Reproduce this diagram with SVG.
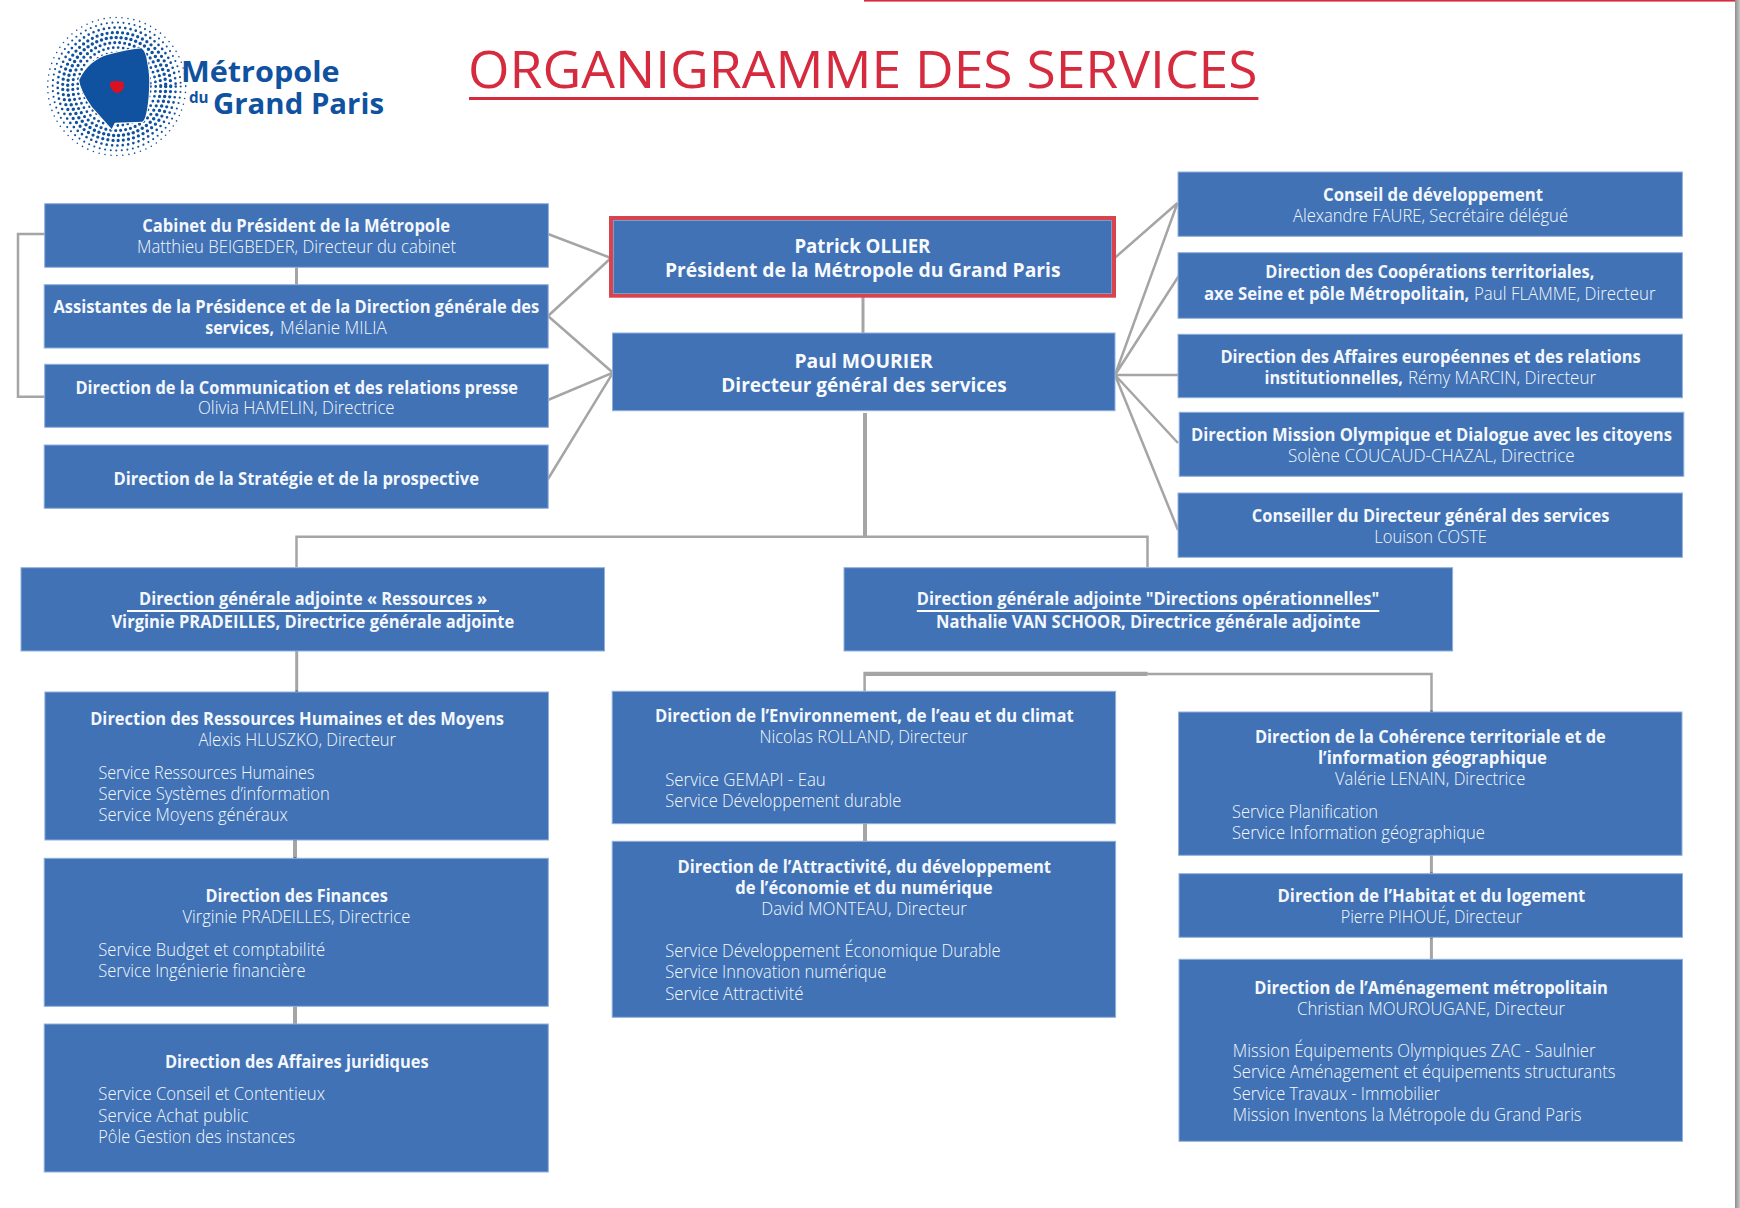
<svg xmlns="http://www.w3.org/2000/svg" width="1740" height="1208" viewBox="0 0 1740 1208">
<style>
text{font-family:"Open Sans","Noto Sans","Liberation Sans",sans-serif;fill:#fff}
.b{font-size:17px;font-weight:700;fill:#f4f7fc}
.r{font-size:17.5px;font-weight:300;fill:#f6f9fd}
.h{font-size:20px;font-weight:700;fill:#f8fafd}
.box{fill:#4072b5;stroke:#8fb0de;stroke-width:1}
.c{fill:none;stroke:#a5a5a5;stroke-width:2.5}
.c3{fill:none;stroke:#a5a5a5;stroke-width:3}
.c4{fill:none;stroke:#a5a5a5;stroke-width:4}
.t{fill:none;stroke:#4d5a6c;stroke-width:3}
.dot{fill:none;stroke:#10529f;stroke-linecap:round}
.lg{font-weight:700}
</style>
<defs>
<linearGradient id="edge" x1="0" x2="1" y1="0" y2="0"><stop offset="0" stop-color="#8c8c8c"/><stop offset="1" stop-color="#c8c8c8"/></linearGradient>
</defs>
<rect width="1740" height="1208" fill="#fff"/>
<rect x="1735" y="0" width="5" height="1208" fill="url(#edge)"/>
<rect x="864" y="0" width="871" height="1.6" fill="#d62b3e"/>

<g id="logo">
<g class="dot">
<circle cx="116.7" cy="86.5" r="69" stroke-width="1.6" stroke-dasharray="0 6"/>
<circle cx="116.7" cy="86.5" r="64" stroke-width="2.1" stroke-dasharray="0 5.6"/>
<circle cx="116.7" cy="86.5" r="59" stroke-width="2.7" stroke-dasharray="0 5.4"/>
<circle cx="116.7" cy="86.5" r="54" stroke-width="3.3" stroke-dasharray="0 5.2"/>
<circle cx="116.7" cy="86.5" r="49" stroke-width="3.5" stroke-dasharray="0 5"/>
<circle cx="116.7" cy="86.5" r="44" stroke-width="3.2" stroke-dasharray="0 5"/>
<circle cx="116.7" cy="86.5" r="39" stroke-width="2.8" stroke-dasharray="0 5"/>
<circle cx="116.7" cy="86.5" r="34" stroke-width="2.4" stroke-dasharray="0 5"/>
</g>
<path d="M141.6 48.3Q146 52 147.3 63Q150 76 149 90Q148.5 105 145.4 116.7Q144 121 142.4 121.7L114.8 122.7L111.7 129L91.8 106.7Q80 90 79.2 80Q84 70 91.8 63.3Q100 57 107 55Q125 50 141.6 48.3Z" fill="#10529f" stroke="#fff" stroke-width="2" paint-order="stroke"/>
<path d="M110.5 82Q116 80 123 82Q125 84 123 89Q120 93 117.5 93Q114.5 93 111.5 89Q109 85 110.5 82Z" fill="#dc1020"/>
<text class="lg" x="181" y="82.3" font-size="29" textLength="158.5" lengthAdjust="spacingAndGlyphs" style="fill:#10529f">Métropole</text>
<text class="lg" x="189" y="103" font-size="16" textLength="19.6" lengthAdjust="spacingAndGlyphs" style="fill:#10529f">du</text>
<text class="lg" x="213" y="114" font-size="29" textLength="171" lengthAdjust="spacingAndGlyphs" style="fill:#10529f">Grand Paris</text>
</g>

<g id="title">
<text x="468" y="87.5" font-size="52" textLength="789.5" lengthAdjust="spacingAndGlyphs" style="fill:#d62b3e">ORGANIGRAMME DES SERVICES</text>
<rect x="469" y="97" width="789.4" height="3" fill="#d62b3e"/>
</g>

<g id="connectors">
<path class="c" d="M45 234H18V396.7H45"/>
<path class="c3" d="M296.5 267V285"/>
<path class="c" d="M548 234L611 258M548 316L611 258M548 316L613 372.7M548 400L613 372.7M548 479L613 372.7"/>
<path class="c3" d="M863 297V333"/>
<path class="c" d="M1115 257.7L1177.5 203M1115 375L1177.5 203M1115 375L1180 274M1115 375H1178M1115 375L1178 443M1115 375L1178 530"/>
<path class="c4" d="M865 413V536"/>
<path class="c" d="M296.5 567V536.7H1147.5V567"/>
<path class="c3" d="M296.7 651V692"/>
<path class="c4" d="M295 840V858M295 1006V1024"/>
<path class="c4" d="M864.6 674H1147.5"/>
<path class="c" d="M864.6 691V673H1147.5M1147.5 674H1431.5V712"/>
<path class="c4" d="M865 823V841"/>
<path class="c3" d="M1431.4 855V874M1431.4 937V959"/>
<path class="t" d="M296.7 690.5V692M295 839V840.5M295 857V858.5M1431.5 710.5V712M1431.4 872.5V874M1431.4 937V938.5" style="stroke-width:2.4"/>
</g>

<g id="n-cabinet">
<rect class="box" x="44.7" y="203.7" width="503.7" height="63.6"/>
<text class="b" x="142.3" y="231.7" textLength="307.7" lengthAdjust="spacingAndGlyphs">Cabinet du Président de la Métropole</text>
<text class="r" x="137" y="253.3" textLength="319" lengthAdjust="spacingAndGlyphs">Matthieu BEIGBEDER, Directeur du cabinet</text>
</g>
<g id="n-assistantes">
<rect class="box" x="44.2" y="284.7" width="504" height="63.3"/>
<text class="b" x="53.4" y="313" textLength="485.9" lengthAdjust="spacingAndGlyphs">Assistantes de la Présidence et de la Direction générale des</text>
<text class="b" x="205.2" y="334" textLength="68.8" lengthAdjust="spacingAndGlyphs">services,</text>
<text class="r" x="280" y="334" textLength="106.7" lengthAdjust="spacingAndGlyphs">Mélanie MILIA</text>
</g>
<g id="n-communication">
<rect class="box" x="44.7" y="364.3" width="503.7" height="63"/>
<text class="b" x="75.5" y="393.5" textLength="442.5" lengthAdjust="spacingAndGlyphs">Direction de la Communication et des relations presse</text>
<text class="r" x="198" y="414" textLength="196.6" lengthAdjust="spacingAndGlyphs">Olivia HAMELIN, Directrice</text>
</g>
<g id="n-strategie">
<rect class="box" x="44.2" y="445" width="504" height="63.3"/>
<text class="b" x="113.5" y="484.5" textLength="365.5" lengthAdjust="spacingAndGlyphs">Direction de la Stratégie et de la prospective</text>
</g>

<g id="n-president">
<rect x="611" y="218" width="503" height="77.7" fill="#4072b5" stroke="#d9434e" stroke-width="4"/>
<rect x="613.5" y="220.5" width="498" height="73" fill="none" stroke="#7d9cc8" stroke-width="1"/>
<text class="h" x="794.4" y="252.7" textLength="136" lengthAdjust="spacingAndGlyphs">Patrick OLLIER</text>
<text class="h" x="665" y="276.7" textLength="395.5" lengthAdjust="spacingAndGlyphs">Président de la Métropole du Grand Paris</text>
</g>
<g id="n-dgs">
<rect class="box" x="612.5" y="333" width="502.5" height="77.7"/>
<text class="h" x="794.4" y="367.7" textLength="138.4" lengthAdjust="spacingAndGlyphs">Paul MOURIER</text>
<text class="h" x="721.3" y="391.7" textLength="285.5" lengthAdjust="spacingAndGlyphs">Directeur général des services</text>
</g>

<g id="n-conseil">
<rect class="box" x="1178" y="172" width="504.4" height="64.3"/>
<text class="b" x="1323" y="200.7" textLength="220" lengthAdjust="spacingAndGlyphs">Conseil de développement</text>
<text class="r" x="1293" y="222" textLength="275" lengthAdjust="spacingAndGlyphs">Alexandre FAURE, Secrétaire délégué</text>
</g>
<g id="n-cooperations">
<rect class="box" x="1178" y="252.7" width="504.4" height="65.6"/>
<text class="b" x="1265.3" y="278" textLength="329" lengthAdjust="spacingAndGlyphs">Direction des Coopérations territoriales,</text>
<text class="b" x="1204" y="300" textLength="265.4" lengthAdjust="spacingAndGlyphs">axe Seine et pôle Métropolitain,</text>
<text class="r" x="1474" y="300" textLength="181.5" lengthAdjust="spacingAndGlyphs">Paul FLAMME, Directeur</text>
</g>
<g id="n-affaires">
<rect class="box" x="1178" y="334.3" width="504.4" height="63.4"/>
<text class="b" x="1220.4" y="362.7" textLength="420.4" lengthAdjust="spacingAndGlyphs">Direction des Affaires européennes et des relations</text>
<text class="b" x="1264.5" y="384" textLength="138.5" lengthAdjust="spacingAndGlyphs">institutionnelles,</text>
<text class="r" x="1408" y="384" textLength="188" lengthAdjust="spacingAndGlyphs">Rémy MARCIN, Directeur</text>
</g>
<g id="n-mission">
<rect class="box" x="1179.2" y="412.3" width="504.6" height="64"/>
<text class="b" x="1191" y="440.7" textLength="481" lengthAdjust="spacingAndGlyphs">Direction Mission Olympique et Dialogue avec les citoyens</text>
<text class="r" x="1288" y="461.7" textLength="286.7" lengthAdjust="spacingAndGlyphs">Solène COUCAUD-CHAZAL, Directrice</text>
</g>
<g id="n-conseiller">
<rect class="box" x="1178" y="493" width="504.4" height="64.3"/>
<text class="b" x="1251.8" y="521.7" textLength="357.6" lengthAdjust="spacingAndGlyphs">Conseiller du Directeur général des services</text>
<text class="r" x="1374.3" y="542.7" textLength="112.7" lengthAdjust="spacingAndGlyphs">Louison COSTE</text>
</g>

<g id="n-dga-ressources">
<rect class="box" x="21" y="567.7" width="583.5" height="83.3"/>
<text class="b" x="139" y="605" textLength="348" lengthAdjust="spacingAndGlyphs">Direction générale adjointe « Ressources »</text>
<rect x="127" y="610" width="372" height="2" fill="#fff"/>
<text class="b" x="111.4" y="628" textLength="402.9" lengthAdjust="spacingAndGlyphs">Virginie PRADEILLES, Directrice générale adjointe</text>
</g>
<g id="n-dga-operationnelles">
<rect class="box" x="844" y="567.7" width="608.6" height="83.3"/>
<text class="b" x="916.8" y="605" textLength="462.5" lengthAdjust="spacingAndGlyphs">Direction générale adjointe "Directions opérationnelles"</text>
<rect x="916.8" y="610" width="462.5" height="2" fill="#fff"/>
<text class="b" x="936" y="628" textLength="424.5" lengthAdjust="spacingAndGlyphs">Nathalie VAN SCHOOR, Directrice générale adjointe</text>
</g>

<g id="n-rh">
<rect class="box" x="44.9" y="692" width="503.6" height="148"/>
<text class="b" x="90.2" y="725" textLength="413.8" lengthAdjust="spacingAndGlyphs">Direction des Ressources Humaines et des Moyens</text>
<text class="r" x="198.4" y="746" textLength="197.6" lengthAdjust="spacingAndGlyphs">Alexis HLUSZKO, Directeur</text>
<text class="r" x="98.4" y="779.3" textLength="216" lengthAdjust="spacingAndGlyphs">Service Ressources Humaines</text>
<text class="r" x="98.4" y="800.3" textLength="231.4" lengthAdjust="spacingAndGlyphs">Service Systèmes d’information</text>
<text class="r" x="98.4" y="821.3" textLength="189.4" lengthAdjust="spacingAndGlyphs">Service Moyens généraux</text>
</g>
<g id="n-finances">
<rect class="box" x="44.2" y="858.3" width="504.1" height="148"/>
<text class="b" x="205.5" y="901.7" textLength="182.2" lengthAdjust="spacingAndGlyphs">Direction des Finances</text>
<text class="r" x="182.5" y="922.7" textLength="227.8" lengthAdjust="spacingAndGlyphs">Virginie PRADEILLES, Directrice</text>
<text class="r" x="98.3" y="956" textLength="226.8" lengthAdjust="spacingAndGlyphs">Service Budget et comptabilité</text>
<text class="r" x="98.3" y="977" textLength="207.2" lengthAdjust="spacingAndGlyphs">Service Ingénierie financière</text>
</g>
<g id="n-juridiques">
<rect class="box" x="44.2" y="1024" width="504.1" height="148"/>
<text class="b" x="164.9" y="1067.7" textLength="263.7" lengthAdjust="spacingAndGlyphs">Direction des Affaires juridiques</text>
<text class="r" x="98.3" y="1100" textLength="226.7" lengthAdjust="spacingAndGlyphs">Service Conseil et Contentieux</text>
<text class="r" x="98.3" y="1121.7" textLength="150.1" lengthAdjust="spacingAndGlyphs">Service Achat public</text>
<text class="r" x="98.3" y="1142.7" textLength="196.7" lengthAdjust="spacingAndGlyphs">Pôle Gestion des instances</text>
</g>

<g id="n-environnement">
<rect class="box" x="612.2" y="691.3" width="503.4" height="132.4"/>
<text class="b" x="655" y="721.7" textLength="418.6" lengthAdjust="spacingAndGlyphs">Direction de l’Environnement, de l’eau et du climat</text>
<text class="r" x="759.6" y="743" textLength="208.2" lengthAdjust="spacingAndGlyphs">Nicolas ROLLAND, Directeur</text>
<text class="r" x="665.2" y="786" textLength="160.6" lengthAdjust="spacingAndGlyphs">Service GEMAPI - Eau</text>
<text class="r" x="665.2" y="807" textLength="236" lengthAdjust="spacingAndGlyphs">Service Développement durable</text>
</g>
<g id="n-attractivite">
<rect class="box" x="612.2" y="841.3" width="503.4" height="176"/>
<text class="b" x="677.4" y="873" textLength="373.6" lengthAdjust="spacingAndGlyphs">Direction de l’Attractivité, du développement</text>
<text class="b" x="735.2" y="894" textLength="257.3" lengthAdjust="spacingAndGlyphs">de l’économie et du numérique</text>
<text class="r" x="761.3" y="915" textLength="205.5" lengthAdjust="spacingAndGlyphs">David MONTEAU, Directeur</text>
<text class="r" x="665.2" y="957" textLength="335.4" lengthAdjust="spacingAndGlyphs">Service Développement Économique Durable</text>
<text class="r" x="665.2" y="978" textLength="221.1" lengthAdjust="spacingAndGlyphs">Service Innovation numérique</text>
<text class="r" x="665.2" y="999.7" textLength="138.3" lengthAdjust="spacingAndGlyphs">Service Attractivité</text>
</g>

<g id="n-coherence">
<rect class="box" x="1178.6" y="712" width="503.4" height="143.3"/>
<text class="b" x="1254.9" y="743.3" textLength="350.9" lengthAdjust="spacingAndGlyphs">Direction de la Cohérence territoriale et de</text>
<text class="b" x="1318" y="764.3" textLength="229" lengthAdjust="spacingAndGlyphs">l’information géographique</text>
<text class="r" x="1335" y="785.3" textLength="190.4" lengthAdjust="spacingAndGlyphs">Valérie LENAIN, Directrice</text>
<text class="r" x="1232" y="818.3" textLength="146" lengthAdjust="spacingAndGlyphs">Service Planification</text>
<text class="r" x="1232" y="839.3" textLength="253" lengthAdjust="spacingAndGlyphs">Service Information géographique</text>
</g>
<g id="n-habitat">
<rect class="box" x="1179" y="873.7" width="503.5" height="63.6"/>
<text class="b" x="1277.5" y="901.7" textLength="307.8" lengthAdjust="spacingAndGlyphs">Direction de l’Habitat et du logement</text>
<text class="r" x="1340.7" y="922.7" textLength="181.3" lengthAdjust="spacingAndGlyphs">Pierre PIHOUÉ, Directeur</text>
</g>
<g id="n-amenagement">
<rect class="box" x="1179" y="959.3" width="503.5" height="182"/>
<text class="b" x="1254.2" y="993.7" textLength="353.7" lengthAdjust="spacingAndGlyphs">Direction de l’Aménagement métropolitain</text>
<text class="r" x="1297" y="1015" textLength="268" lengthAdjust="spacingAndGlyphs">Christian MOUROUGANE, Directeur</text>
<text class="r" x="1232.8" y="1057.3" textLength="362.7" lengthAdjust="spacingAndGlyphs">Mission Équipements Olympiques ZAC - Saulnier</text>
<text class="r" x="1232.8" y="1078.3" textLength="382.6" lengthAdjust="spacingAndGlyphs">Service Aménagement et équipements structurants</text>
<text class="r" x="1232.8" y="1100" textLength="207" lengthAdjust="spacingAndGlyphs">Service Travaux - Immobilier</text>
<text class="r" x="1232.8" y="1121" textLength="348.8" lengthAdjust="spacingAndGlyphs">Mission Inventons la Métropole du Grand Paris</text>
</g>
</svg>
